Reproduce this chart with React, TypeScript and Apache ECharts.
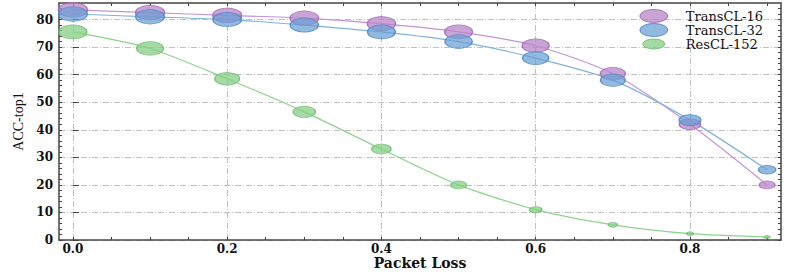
import React, { useEffect, useRef } from "react";
import * as echarts from "echarts";

const packetLoss = [0.0, 0.1, 0.2, 0.3, 0.4, 0.5, 0.6, 0.7, 0.8, 0.9];
const transCL16 = [83.5, 82.5, 81.5, 80.5, 78.5, 75.5, 70.5, 60.3, 42, 20];
const transCL32 = [82, 81, 80, 78, 75.5, 72, 66, 58, 43.5, 25.5];
const resCL152 = [75.5, 69.5, 58.5, 46.5, 33, 20, 11, 5.5, 2.3, 1.1];

const xMajorTicks = [0, 0.2, 0.4, 0.6, 0.8];
const xMinorTicks = [0, 0.05, 0.1, 0.15, 0.2, 0.25, 0.3, 0.35, 0.4, 0.45, 0.5, 0.55, 0.6, 0.65, 0.7, 0.75, 0.8, 0.85, 0.9];
const yMajorTicks = [0, 10, 20, 30, 40, 50, 60, 70, 80];
const yMinorTicks = [0, 2, 4, 6, 8, 10, 12, 14, 16, 18, 20, 22, 24, 26, 28, 30, 32, 34, 36, 38, 40, 42, 44, 46, 48, 50, 52, 54, 56, 58, 60, 62, 64, 66, 68, 70, 72, 74, 76, 78, 80, 82, 84];

const X_MIN = -0.018;
const X_MAX = 0.918;
const Y_MIN = 0;
const Y_MAX = 86;

const AXIS_COLOR = "#444";
const serif = "DejaVu Serif";

const ICON_BIG = "path://M0,6.5A14,6.5,0,1,1,28,6.5A14,6.5,0,1,1,0,6.5Z";
const ICON_SMALL = "path://M0,0M28,13M3,6.5A11,5,0,1,1,25,6.5A11,5,0,1,1,3,6.5Z";

function sizeOf(v: number): number[] {
  const w = 2.6 + 2.9 * Math.sqrt(Math.max(v, 0));
  return [w, w * 0.5];
}

export default function App() {
  const ref = useRef<HTMLDivElement>(null);
  useEffect(() => {
    if (!ref.current) return;
    const chart = echarts.init(ref.current, undefined, { renderer: "svg" });

    const mk = (name: string, ys: number[], fill: string, border: string, line: string) => ({
      name,
      type: "line",
      xAxisIndex: 0,
      yAxisIndex: 0,
      data: packetLoss.map((x, i) => [x, ys[i]]),
      smooth: 0.25,
      symbol: "circle",
      symbolSize: (val: number[]) => sizeOf(val[1]),
      lineStyle: { color: line, width: 1.2 },
      itemStyle: { color: fill, borderColor: border, borderWidth: 1 },
      z: 3,
    });

    const baseX = {
      type: "value",
      min: X_MIN,
      max: X_MAX,
      gridIndex: 0,
    };
    const baseY = {
      type: "value",
      min: Y_MIN,
      max: Y_MAX,
      gridIndex: 0,
    };
    const dashDot = { color: "#c0c0c0", width: 1, type: [6, 2, 1, 2] };

    chart.setOption({
      animation: false,
      backgroundColor: "#fff",
      grid: { left: 59, right: 7, top: 3, bottom: 32, containLabel: false, outerBoundsMode: "none" },
      legend: {
        orient: "vertical",
        right: 20,
        top: 4,
        itemWidth: 28,
        itemHeight: 13,
        itemGap: 0,
        symbolKeepAspect: false,
        itemStyle: { borderWidth: 1 },
        textStyle: { fontFamily: serif, fontSize: 13, lineHeight: 13, color: "#111", padding: [0, 0, 0, 13] },
        data: [
          { name: "TransCL-16", icon: ICON_BIG },
          { name: "TransCL-32", icon: ICON_BIG },
          { name: "ResCL-152", icon: ICON_SMALL },
        ],
      },
      xAxis: [
        {
          ...baseX,
          position: "bottom",
          name: "Packet Loss",
          nameLocation: "middle",
          nameGap: 16,
          nameMoveOverlap: false,
          nameTextStyle: { fontFamily: serif, fontSize: 14, fontWeight: "bold", color: "#111", lineHeight: 14 },
          axisLine: { show: true, onZero: false, lineStyle: { color: AXIS_COLOR, width: 1.5 } },
          axisTick: { show: true, inside: true, length: 3, customValues: xMinorTicks, lineStyle: { color: AXIS_COLOR } },
          axisLabel: {
            show: true,
            customValues: xMajorTicks,
            formatter: (v: number) => v.toFixed(1),
            fontFamily: serif,
            fontSize: 12,
            lineHeight: 12,
            fontWeight: "bold",
            color: "#111",
            margin: 3,
          },
          splitLine: { show: false },
        },
        {
          ...baseX,
          position: "top",
          axisLine: { show: true, onZero: false, lineStyle: { color: AXIS_COLOR, width: 1.5 } },
          axisTick: { show: true, inside: true, length: 3, customValues: xMinorTicks, lineStyle: { color: AXIS_COLOR } },
          axisLabel: { show: false },
          splitLine: { show: false },
        },
        {
          ...baseX,
          position: "bottom",
          axisLine: { show: false },
          axisTick: { show: false, customValues: xMajorTicks },
          axisLabel: { show: false, customValues: xMajorTicks },
          splitLine: { show: true, lineStyle: dashDot },
        },
      ],
      yAxis: [
        {
          ...baseY,
          position: "left",
          name: "ACC-top1",
          nameLocation: "middle",
          nameGap: 34,
          nameRotate: 90,
          nameMoveOverlap: false,
          nameTextStyle: { fontFamily: "Liberation Serif", fontSize: 14, color: "#111" },
          axisLine: { show: true, onZero: false, lineStyle: { color: AXIS_COLOR, width: 1.5 } },
          axisTick: { show: true, inside: true, length: 3, customValues: yMinorTicks, lineStyle: { color: AXIS_COLOR } },
          axisLabel: {
            show: true,
            customValues: yMajorTicks,
            fontFamily: serif,
            fontSize: 12,
            fontWeight: "bold",
            color: "#111",
            margin: 6,
          },
          splitLine: { show: false },
        },
        {
          ...baseY,
          position: "right",
          axisLine: { show: true, onZero: false, lineStyle: { color: AXIS_COLOR, width: 1.5 } },
          axisTick: { show: true, inside: true, length: 3, customValues: yMinorTicks, lineStyle: { color: AXIS_COLOR } },
          axisLabel: { show: false },
          splitLine: { show: false },
        },
        {
          ...baseY,
          position: "left",
          axisLine: { show: false },
          axisTick: { show: true, inside: true, length: 6, customValues: yMajorTicks, lineStyle: { color: AXIS_COLOR } },
          axisLabel: { show: false, customValues: yMajorTicks },
          splitLine: { show: true, lineStyle: dashDot },
        },
      ],
      series: [
        mk("TransCL-16", transCL16, "rgba(186,134,200,0.75)", "rgba(165,105,185,0.9)", "rgba(196,148,214,1)"),
        mk("TransCL-32", transCL32, "rgba(104,158,210,0.72)", "rgba(78,138,200,0.9)", "rgba(128,178,224,1)"),
        mk("ResCL-152", resCL152, "rgba(134,206,134,0.75)", "rgba(112,192,112,0.9)", "rgba(140,212,140,1)"),
      ],
    });
    return () => chart.dispose();
  }, []);
  return <div ref={ref} style={{ width: 788, height: 272, position: "absolute", left: 0, top: 0 }} />;
}
